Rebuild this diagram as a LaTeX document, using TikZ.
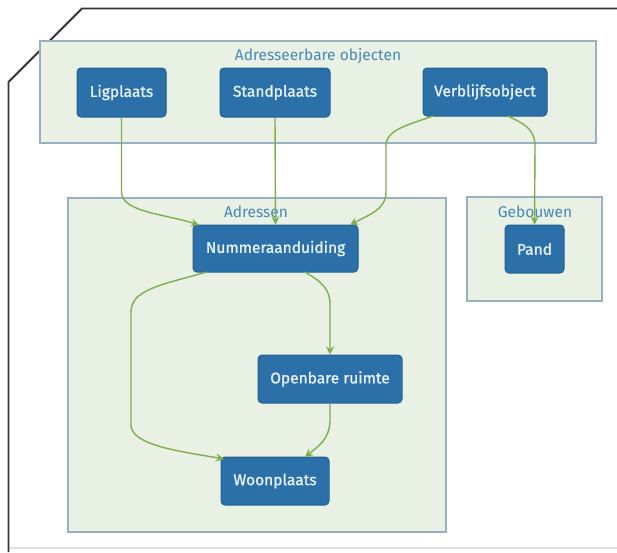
\documentclass[tikz,border=0pt]{standalone}
\usepackage{fontspec}
\setmainfont{Fira Sans}
\newfontfamily\nodefont[FakeBold=1.2]{Fira Sans}
\usetikzlibrary{arrows.meta}
\definecolor{nodefill}{HTML}{2B70A9}
\definecolor{nodeline}{HTML}{23628F}
\definecolor{nodetext}{HTML}{E6F2FA}
\definecolor{clfill}{HTML}{E8F1E3}
\definecolor{clline}{HTML}{97B1C3}
\definecolor{cltext}{HTML}{4A86B8}
\definecolor{edgecol}{HTML}{7DAF4E}
\definecolor{framecol}{HTML}{333333}
\begin{document}
\begin{tikzpicture}[x=1pt,y=-1pt,
  objbox/.style={draw=nodeline,fill=nodefill,rounded corners=4pt,line width=1pt,
    text=nodetext,font=\nodefont\fontsize{15.5}{18}\selectfont,inner sep=0pt},
  clusterbox/.style={draw=clline,fill=clfill,line width=1.5pt},
  cllabel/.style={text=cltext,font=\fontsize{15.5}{18}\selectfont,inner sep=0pt},
  link/.style={draw=edgecol,line width=1.4pt,-{Stealth[length=8pt,width=8pt]}}]
\useasboundingbox (0,0) rectangle (617,552);
\fill[white] (0,0) rectangle (617,552);
% frame
\draw[framecol,line width=1.8pt] (8.5,552) -- (8.5,82) -- (82,8.5) -- (617,8.5);
\draw[black!12,line width=2pt] (9.5,548) -- (617,548);
% clusters
\draw[clusterbox] (40,41) rectangle (596,143);
\node[cllabel] (lbA) at (318,56) {Adresseerbare objecten};
\draw[clusterbox] (68,198) rectangle (446,532);
\draw[clusterbox] (467,197) rectangle (602,301);
% nodes
\node[objbox,minimum width=89pt,minimum height=49pt] (lig) at (121.5,92.5) {Ligplaats};
\node[objbox,minimum width=110pt,minimum height=49pt] (stand) at (275,92.5) {Standplaats};
\node[objbox,minimum width=124pt,minimum height=48pt] (verb) at (485,92) {Verblijfsobject};
\node[objbox,minimum width=165pt,minimum height=47pt] (num) at (275.5,248.5) {Nummeraanduiding};
\node[objbox,minimum width=59pt,minimum height=48pt] (pand) at (534.5,249) {Pand};
\node[objbox,minimum width=144pt,minimum height=48pt] (open) at (330,379) {Openbare ruimte};
\node[objbox,minimum width=108pt,minimum height=48pt] (woon) at (275,481) {Woonplaats};
% cluster labels
\node[cllabel] (lbB) at (256,212) {Adressen};
\node[cllabel] (lbC) at (535,212) {Gebouwen};
% coordinates
\coordinate (numNW) at (199,225);
\coordinate (numNE) at (350,225);
\coordinate (numSW) at (207,272);
\coordinate (numSE) at (305,272);
\coordinate (verbSW) at (433,116);
\coordinate (verbSE) at (508,116);
\coordinate (woonNW) at (224,459);
\coordinate (woonNE) at (305,457);
% edges
\draw[link] (lig.south) -- (121.5,192) .. controls (121.5,212) and (165,214) .. (numNW);
\draw[link] (stand.south) -- (num.north);
\draw[link] (verbSW) .. controls (405,126) and (386,130) .. (386,146) -- (386,192)
  .. controls (386,210) and (368,215) .. (numNE);
\draw[link] (verbSE) .. controls (522,123) and (535,128) .. (535,146) -- (pand.north);
\draw[link] (numSW) .. controls (160,285) and (131,290) .. (131,312) -- (131,425)
  .. controls (131,446) and (185,452) .. (woonNW);
\draw[link] (numSE) .. controls (320,281) and (330,288) .. (330,304) -- (open.north);
\draw[link] (open.south) -- (330,420) .. controls (330,440) and (316,448) .. (woonNE);
\end{tikzpicture}
\end{document}
